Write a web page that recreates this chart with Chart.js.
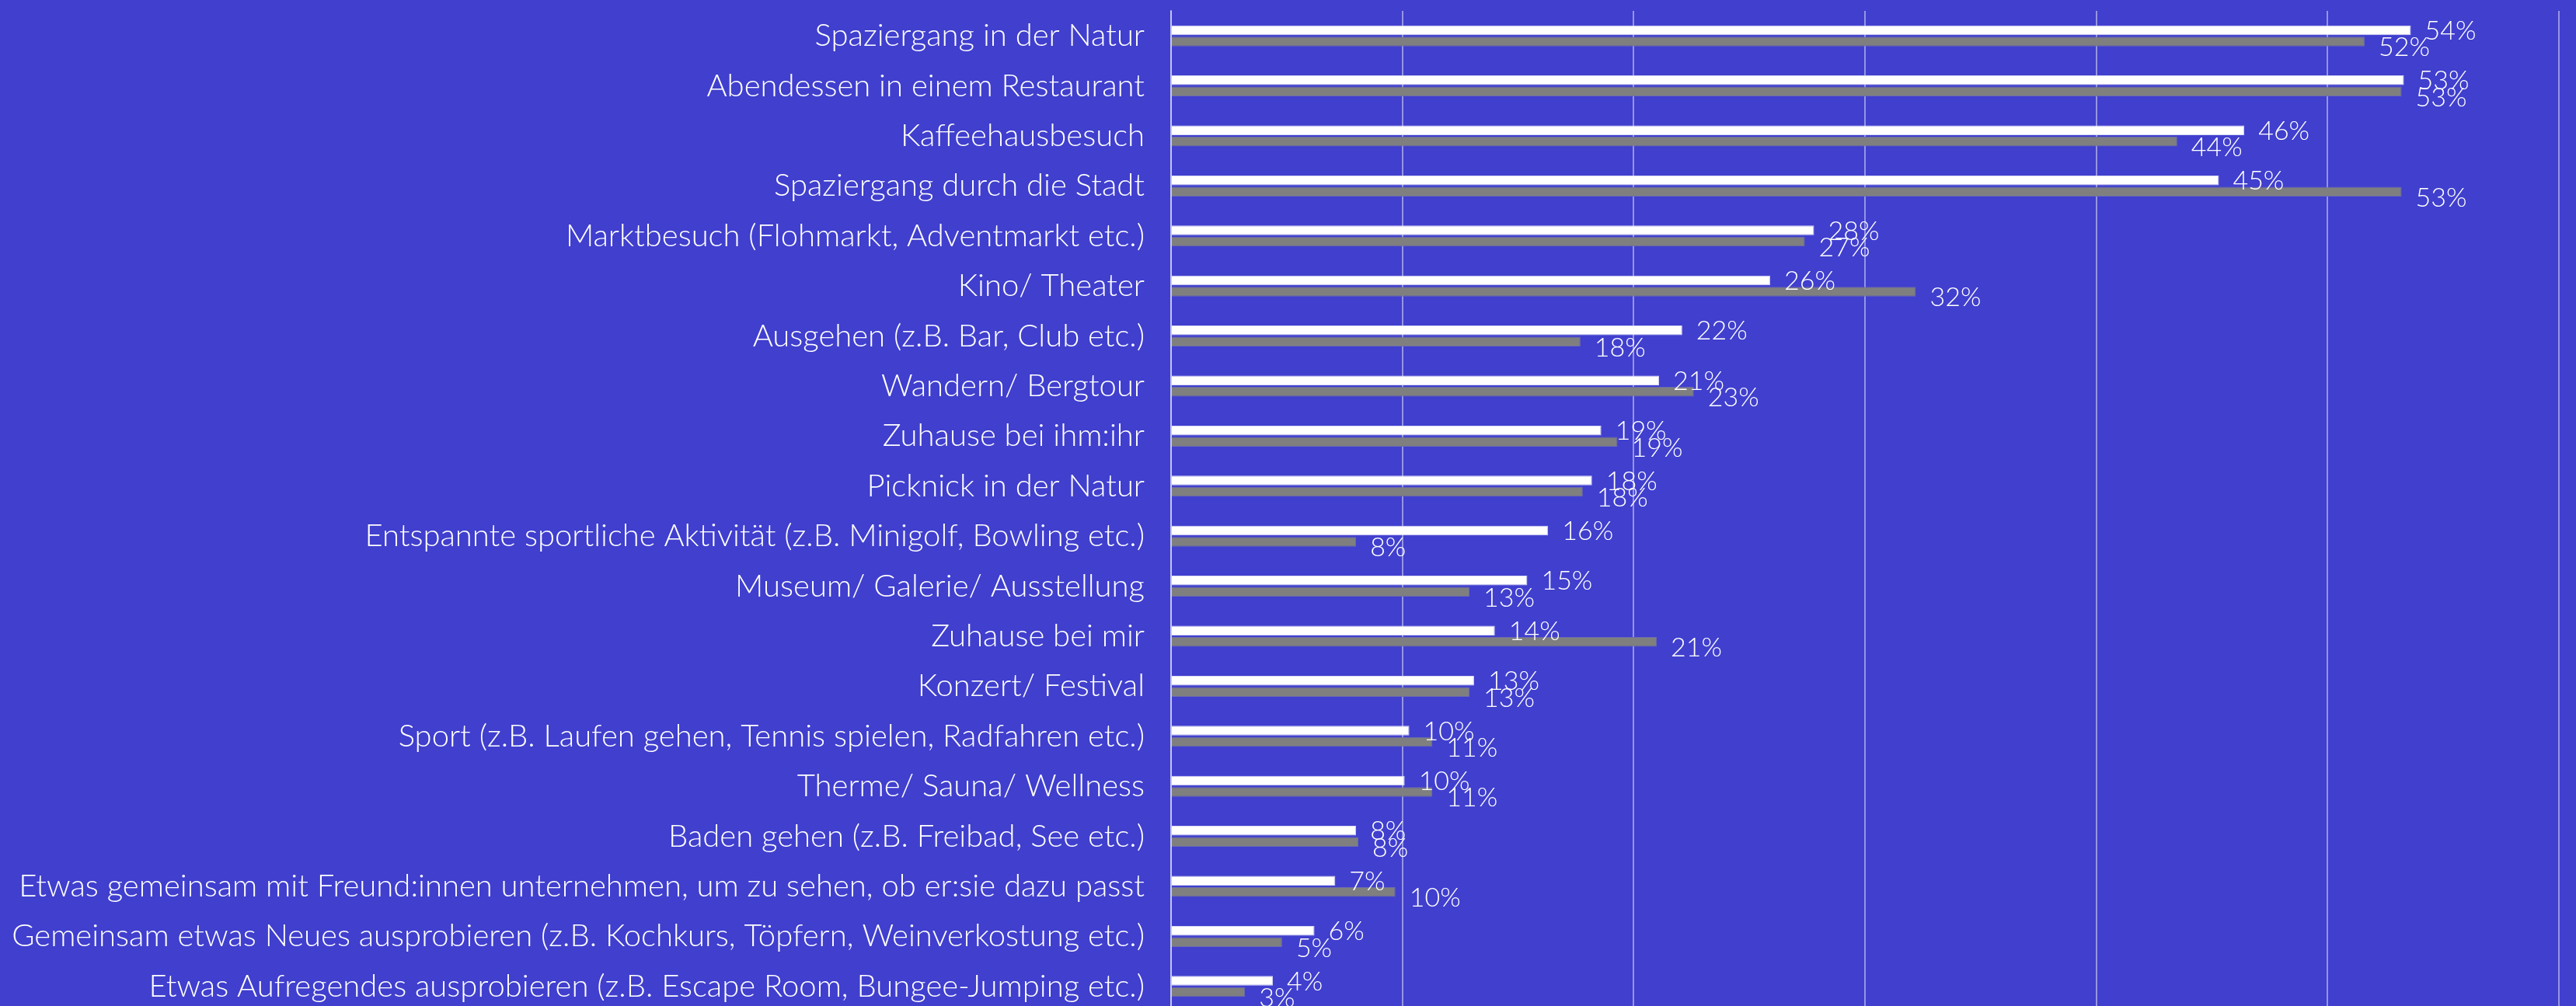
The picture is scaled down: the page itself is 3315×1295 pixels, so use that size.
<!DOCTYPE html>
<html>
<head>
<meta charset="utf-8">
<script src="https://cdn.jsdelivr.net/npm/chart.js@4.4.1/dist/chart.umd.min.js"></script>
<style>
  html, body { margin: 0; padding: 0; background: #403fce; overflow: hidden; }
  #wrap { width: 3315px; height: 1312px; position: relative; }
</style>
</head>
<body>
<div id="wrap"><canvas id="chart"></canvas></div>
<script>
// Kategorien (von oben nach unten)
const categories = [
    "Spaziergang in der Natur",
    "Abendessen in einem Restaurant",
    "Kaffeehausbesuch",
    "Spaziergang durch die Stadt",
    "Marktbesuch (Flohmarkt, Adventmarkt etc.)",
    "Kino/ Theater",
    "Ausgehen (z.B. Bar, Club etc.)",
    "Wandern/ Bergtour",
    "Zuhause bei ihm:ihr",
    "Picknick in der Natur",
    "Entspannte sportliche Aktivität (z.B. Minigolf, Bowling etc.)",
    "Museum/ Galerie/ Ausstellung",
    "Zuhause bei mir",
    "Konzert/ Festival",
    "Sport (z.B. Laufen gehen, Tennis spielen, Radfahren etc.)",
    "Therme/ Sauna/ Wellness",
    "Baden gehen (z.B. Freibad, See etc.)",
    "Etwas gemeinsam mit Freund:innen unternehmen, um zu sehen, ob er:sie dazu passt",
    "Gemeinsam etwas Neues ausprobieren (z.B. Kochkurs, Töpfern, Weinverkostung etc.)",
    "Etwas Aufregendes ausprobieren (z.B. Escape Room, Bungee-Jumping etc.)"
];

// Werte in Prozent (weiß / grau)
const seriesWhite = [53.6, 53.3, 46.4, 45.3, 27.8, 25.9, 22.1, 21.1, 18.6, 18.2, 16.3, 15.4, 14.0, 13.1, 10.3, 10.1, 8.0, 7.1, 6.2, 4.4];
const seriesGray  = [51.6, 53.2, 43.5, 53.2, 27.4, 32.2, 17.7, 22.6, 19.3, 17.8, 8.0, 12.9, 21.0, 12.9, 11.3, 11.3, 8.1, 9.7, 4.8, 3.2];

// Achse
const xTicks = [0, 10, 20, 30, 40, 50, 60];

const gridColor = "rgba(255, 255, 255, 0.45)";
const fontFamily = "Lato, 'Open Sans', sans-serif";

// Prozentwerte neben die Balken schreiben
const valueLabels = {
    id: "valueLabels",
    afterDatasetsDraw(chart) {
        const ctx = chart.ctx;
        ctx.save();
        ctx.fillStyle = "#ffffff";
        ctx.font = "300 34px " + fontFamily;
        ctx.textAlign = "left";
        ctx.textBaseline = "middle";
        chart.data.datasets.forEach((ds, i) => {
            const meta = chart.getDatasetMeta(i);
            meta.data.forEach((bar, j) => {
                const txt = Math.round(ds.data[j]) + "%";
                const dy = i === 0 ? 1 : 8;
                ctx.fillText(txt, bar.x + 18, bar.y + dy);
            });
        });
        ctx.restore();
    }
};

const ctx = document.getElementById("chart");

new Chart(ctx, {
    type: "bar",
    data: {
        labels: categories,
        datasets: [{
            label: "Frauen",
            data: seriesWhite,
            backgroundColor: "#ffffff",
            borderColor: "#d8d8f4",
            borderWidth: 1,
            categoryPercentage: 0.45,
            barPercentage: 0.86
        }, {
            label: "Männer",
            data: seriesGray,
            backgroundColor: "#7f7f7f",
            borderColor: "#6d6dab",
            borderWidth: 1,
            categoryPercentage: 0.45,
            barPercentage: 0.86
        }]
    },
    options: {
        indexAxis: "y",
        responsive: true,
        maintainAspectRatio: false,
        animation: false,
        layout: { padding: { top: 14, right: 22, bottom: 0, left: 0 } },
        plugins: {
            legend: { display: false },
            tooltip: { enabled: false }
        },
        scales: {
            x: {
                min: xTicks[0],
                max: xTicks[xTicks.length - 1],
                afterBuildTicks(scale) {
                    scale.ticks = xTicks.map(v => ({ value: v }));
                },
                ticks: { display: false },
                grid: { color: gridColor, lineWidth: 2, drawTicks: false },
                border: { display: false }
            },
            y: {
                afterFit(scale) { scale.width = 1507; },
                ticks: {
                    color: "#ffffff",
                    font: { family: fontFamily, size: 40, weight: "300", lineHeight: 0.5 },
                    padding: 0,
                    autoSkip: false
                },
                grid: { display: false, drawTicks: true, tickLength: 34 },
                border: { color: gridColor, width: 2 }
            }
        }
    },
    plugins: [valueLabels]
});
</script>
</body>
</html>
